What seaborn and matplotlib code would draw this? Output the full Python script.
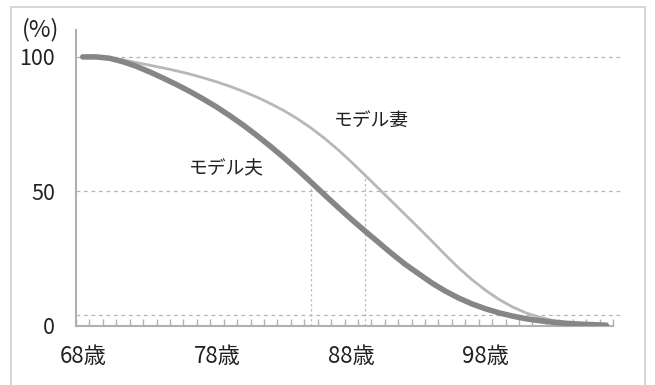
import numpy as np
import pandas as pd
import matplotlib
matplotlib.use("Agg")
import matplotlib.pyplot as plt
import seaborn as sns
from matplotlib.patches import Rectangle

ages = list(range(68, 108))
husband = [100, 100, 99.5, 98.2, 96.5, 94.4, 92.1, 89.7, 87.1, 84.3,
           81.3, 78, 74.5, 70.7, 66.7, 62.5, 58.1, 53.5, 48.8, 44.2,
           39.7, 35.4, 31.2, 27, 23, 19.5, 16, 13, 10.4, 8.2,
           6.4, 4.9, 3.7, 2.7, 2, 1.4, 1, 0.7, 0.5, 0.3]
wife = [100, 100, 99.7, 98.9, 97.9, 96.9, 95.9, 94.8, 93.6, 92.2,
        90.7, 89, 87.1, 85, 82.6, 80, 77, 73.6, 69.8, 65.6,
        61, 56.2, 51.3, 46.4, 41.5, 36.6, 31.6, 26.5, 21.6, 17.2,
        13.3, 9.9, 7.1, 4.9, 3.3, 2.1, 1.3, 0.8, 0.5, 0.3]
tick_ages = [68, 78, 88, 98]
tick_labels = ["68歳", "78歳", "88歳", "98歳"]
grid_vals = [4, 50, 100]
median_ages = [85, 89]

sns.set_theme(style="white")
plt.rcParams['font.family'] = ['Noto Sans CJK JP', 'DejaVu Sans']

df = pd.DataFrame({"age": ages, "夫": husband, "妻": wife})

fig = plt.figure(figsize=(6.55, 3.85), dpi=100)
ax = fig.add_axes([76 / 655, 1 - 326 / 385, (613 - 76) / 655, (326 - 30) / 385])

# frame around the whole picture
fig.patches.append(Rectangle((11 / 655, -0.05), 634 / 655, 1.05 - 7 / 385,
                             transform=fig.transFigure, fill=False,
                             edgecolor="#cfcfcf", linewidth=1.2))

for g in grid_vals:
    ax.hlines(g, 67.5, 108.0, colors="#b5b5b5", linestyles=(0, (3, 3)),
              linewidth=0.9, clip_on=False, zorder=1)

# drop lines from the curves at the median ages
for a, s in zip(median_ages, [husband, wife]):
    ax.vlines(a, 0, s[ages.index(a)], colors="#bdbdbd", linestyles=(0, (2, 2)),
              linewidth=0.9, zorder=1)

sns.lineplot(data=df, x="age", y="妻", ax=ax, color="#b8b8b8", linewidth=2.0,
             zorder=3, solid_capstyle="round", solid_joinstyle="round")
sns.lineplot(data=df, x="age", y="夫", ax=ax, color="#868686", linewidth=4.0,
             zorder=4, solid_capstyle="round", solid_joinstyle="round")

ax.set_xlim(67.5, 107.5)
ax.set_ylim(0, 110)
ax.set_xlabel("")
ax.set_ylabel("")

ax.set_yticks([0, 50, 100])
ax.set_yticklabels(["0", "50", "100"], fontsize=15.5, color="#222222")
ax.tick_params(axis="y", direction="out", length=6, width=1.2, color="#b0b0b0", pad=9)

ax.set_xticks(tick_ages)
ax.set_xticklabels(tick_labels, fontsize=16, color="#222222")
ax.set_xticks(np.arange(67.5, 108, 1), minor=True)
ax.tick_params(axis="x", which="major", length=0, pad=14)
ax.tick_params(axis="x", which="minor", direction="in", length=5, width=1.0,
               color="#b0b0b0", bottom=True)

for side in ["top", "right"]:
    ax.spines[side].set_visible(False)
for side in ["left", "bottom"]:
    ax.spines[side].set_color("#b0b0b0")
    ax.spines[side].set_linewidth(1.5)

ax.text(78.7, 58.5, "モデル夫", fontsize=13.5, ha="center", va="center", color="#222222")
ax.text(89.5, 76.3, "モデル妻", fontsize=13.5, ha="center", va="center", color="#222222")
fig.text(41 / 655, 1 - 30 / 385, "(%)", fontsize=17, ha="center", va="center", color="#222222")

fig.savefig("out.png", dpi=100, facecolor="white")
